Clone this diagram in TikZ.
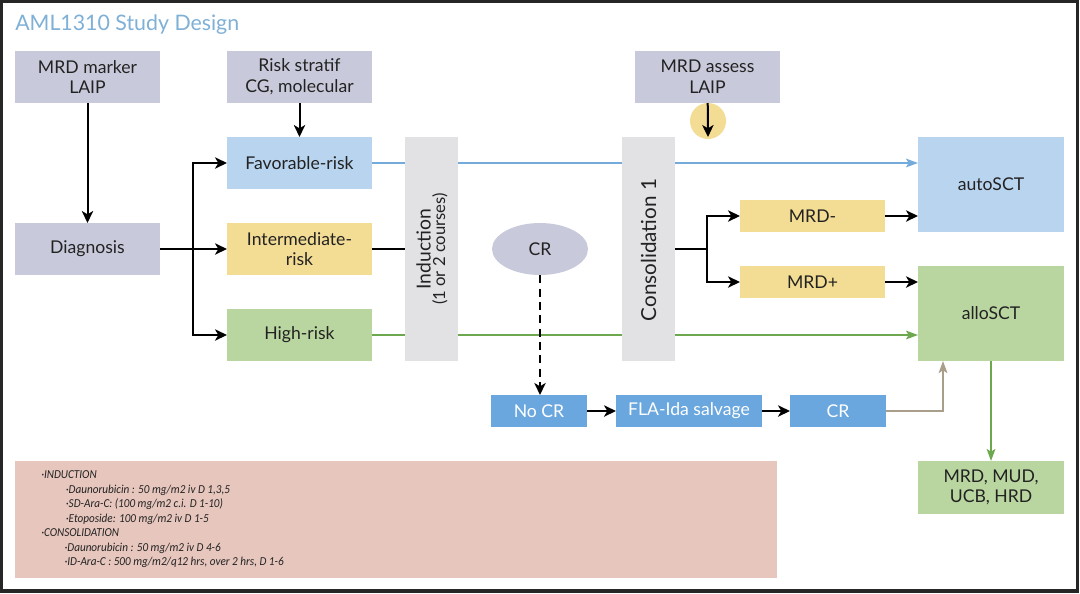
\documentclass[tikz,border=0pt]{standalone}
\usepackage{fontspec}
\setmainfont{Lato}
\newfontfamily\notefont[FakeStretch=0.92]{Carlito}
\usetikzlibrary{arrows.meta,shapes.geometric,calc}
\definecolor{titleblue}{HTML}{7FB0D6}
\definecolor{lav}{HTML}{C8CADB}
\definecolor{lblue}{HTML}{B8D4EE}
\definecolor{lyel}{HTML}{F3DC94}
\definecolor{lgreen}{HTML}{BAD6A0}
\definecolor{lgray}{HTML}{E2E2E4}
\definecolor{mblue}{HTML}{6AA7DE}
\definecolor{lineblue}{HTML}{74ABDB}
\definecolor{linegreen}{HTML}{6DA84F}
\definecolor{tanline}{HTML}{A99E8A}
\definecolor{pinkbox}{HTML}{E6C6BD}
\definecolor{txt}{HTML}{222222}
\tikzset{
  box/.style={draw=none, inner sep=0pt, outer sep=0pt, align=center, text=txt, font=\fontsize{13.2}{15.5}\selectfont},
  bigbox/.style={box, minimum width=108.75pt, minimum height=39pt},
  thinbox/.style={box, minimum width=108.75pt, minimum height=24pt},
  bar/.style={box, fill=lgray, minimum width=39.75pt, minimum height=168pt},
  conn/.style={line width=1.5pt, draw=black},
  arr/.style={conn, -{Stealth[length=9pt,width=8.5pt,inset=2.5pt]}},
  bline/.style={line width=1.3pt, draw=lineblue},
  gline/.style={line width=1.3pt, draw=linegreen},
  carr/.style={-{Stealth[length=9pt,width=6.5pt,inset=2pt]}},
}
\begin{document}
\begin{tikzpicture}[x=0.75pt,y=-0.75pt]
\useasboundingbox (0,0) rectangle (1080,593);
\fill[white] (0,0) rectangle (1080,593);
\draw[line width=2.5pt, draw=black!85] (1.5,1.5) rectangle (1077.5,591);

\node[anchor=west, text=titleblue, font=\fontsize{16}{18}\selectfont, inner sep=0pt] (title) at (15,25) {AML1310 Study Design};

% top boxes
\node[bigbox, fill=lav] (mrdm) at (87.5,77) {MRD marker\\LAIP};
\node[bigbox, fill=lav] (risk) at (299.5,77) {Risk stratif\\CG, molecular};
\node[bigbox, fill=lav] (mrda) at (707.5,77) {MRD assess\\LAIP};
\node[circle, fill=lyel, minimum size=27pt, inner sep=0pt] (dot) at (708,121) {};
\coordinate (dotend) at (708,137);

% left column
\node[bigbox, fill=lav] (diag) at (87.5,249) {Diagnosis};
\node[bigbox, fill=lblue] (fav) at (299.5,163) {Favorable-risk};
\node[bigbox, fill=lyel] (inter) at (299.5,249) {Intermediate-\\risk};
\node[bigbox, fill=lgreen] (high) at (299.5,335) {High-risk};

% bars
\node[bar] (ind) at (431.5,249) {};
\node[rotate=90, align=center, text=txt, inner sep=0pt] (indt) at (432,249)
  {{\fontsize{14.5}{15}\selectfont Induction}\\[-1pt]{\fontsize{12.5}{14}\selectfont (1 or 2 courses)}};
\node[bar] (cons) at (648.5,249) {};
\node[rotate=90, text=txt, inner sep=0pt, font=\fontsize{15.5}{17}\selectfont] (const) at (648.5,250) {Consolidation 1};

\node[ellipse, fill=lav, minimum width=72pt, minimum height=39pt, inner sep=0pt, text=txt, font=\fontsize{13.2}{15}\selectfont] (cr) at (540,249) {CR};

% MRD boxes
\node[thinbox, fill=lyel] (mneg) at (812.5,216) {MRD-};
\node[thinbox, fill=lyel] (mpos) at (812.5,282) {MRD+};

% right boxes
\node[box, fill=lblue, minimum width=109.5pt, minimum height=71.25pt] (auto) at (991,184.5) {autoSCT};
\node[box, fill=lgreen, minimum width=109.5pt, minimum height=71.25pt] (allo) at (991,313.5) {alloSCT};
\node[box, fill=lgreen, minimum width=109.5pt, minimum height=39.75pt] (donor) at (991,487.5) {MRD, MUD,\\UCB, HRD};

% salvage row
\node[box, fill=mblue, text=white, minimum width=72pt, minimum height=24pt] (nocr) at (539,411) {No CR};
\node[box, fill=mblue, text=white, minimum width=109.5pt, minimum height=24pt] (fla) at (689,411) {FLA-Ida salvage};
\node[box, fill=mblue, text=white, minimum width=72pt, minimum height=24pt] (cr2) at (838,411) {CR};

% note box
\node[box, fill=pinkbox, minimum width=571.5pt, minimum height=87.75pt] (note) at (396,519.5) {};
\node[anchor=north west, align=left, inner sep=0pt, text=txt, font=\notefont\itshape\fontsize{9.1}{10.9}\selectfont] (notet) at (41,470.5)
{·INDUCTION\\
\hspace*{18.5pt}·Daunorubicin : 50 mg/m2 iv D 1,3,5\\
\hspace*{18.5pt}·SD-Ara-C: (100 mg/m2 c.i. D 1-10)\\
\hspace*{18.5pt}·Etoposide: 100 mg/m2 iv D 1-5\\
·CONSOLIDATION\\
\hspace*{17.5pt}·Daunorubicin : 50 mg/m2 iv D 4-6\\
\hspace*{17.5pt}·ID-Ara-C : 500 mg/m2/q12 hrs, over 2 hrs, D 1-6};

% connectors
\draw[arr] (mrdm) -- (diag);
\draw[arr] (risk) -- (fav);
\draw[arr] (mrda) -- (dotend);
\coordinate (b1) at (193,249);
\draw[conn] (diag.east) -- (b1);
\draw[arr] (b1) |- (fav.west);
\draw[arr] (b1) -- (inter.west);
\draw[arr] (b1) |- (high.west);

% blue path
\draw[bline] (fav.east) -- (fav.east -| ind.west);
\draw[bline] (fav.east -| ind.east) -- (fav.east -| cons.west);
\draw[bline, carr] (fav.east -| cons.east) -- (fav.east -| auto.west);
% black middle path
\draw[conn] (inter.east) -- (ind.west);
\coordinate (b2) at (707,249);
\draw[conn] (cons.east) -- (b2);
\draw[arr] (b2) |- (mneg.west);
\draw[arr] (b2) |- (mpos.west);
\draw[arr] (mneg.east) -- (mneg.east -| auto.west);
\draw[arr] (mpos.east) -- (mpos.east -| allo.west);
% green path
\draw[gline] (high.east) -- (high.east -| ind.west);
\draw[gline] (high.east -| ind.east) -- (high.east -| cons.west);
\draw[gline, carr] (high.east -| cons.east) -- (high.east -| allo.west);

% CR dashed
\draw[arr, dash pattern=on 6pt off 4pt] (cr.south) -- (cr.south |- nocr.north);
\draw[arr] (nocr) -- (fla);
\draw[arr] (fla) -- (cr2);
\coordinate (tanup) at (943,361);
\draw[line width=1.5pt, draw=tanline, carr] (cr2.east) -| (tanup);
\draw[gline, carr] (allo.south) -- (donor.north);
\end{tikzpicture}
\end{document}
